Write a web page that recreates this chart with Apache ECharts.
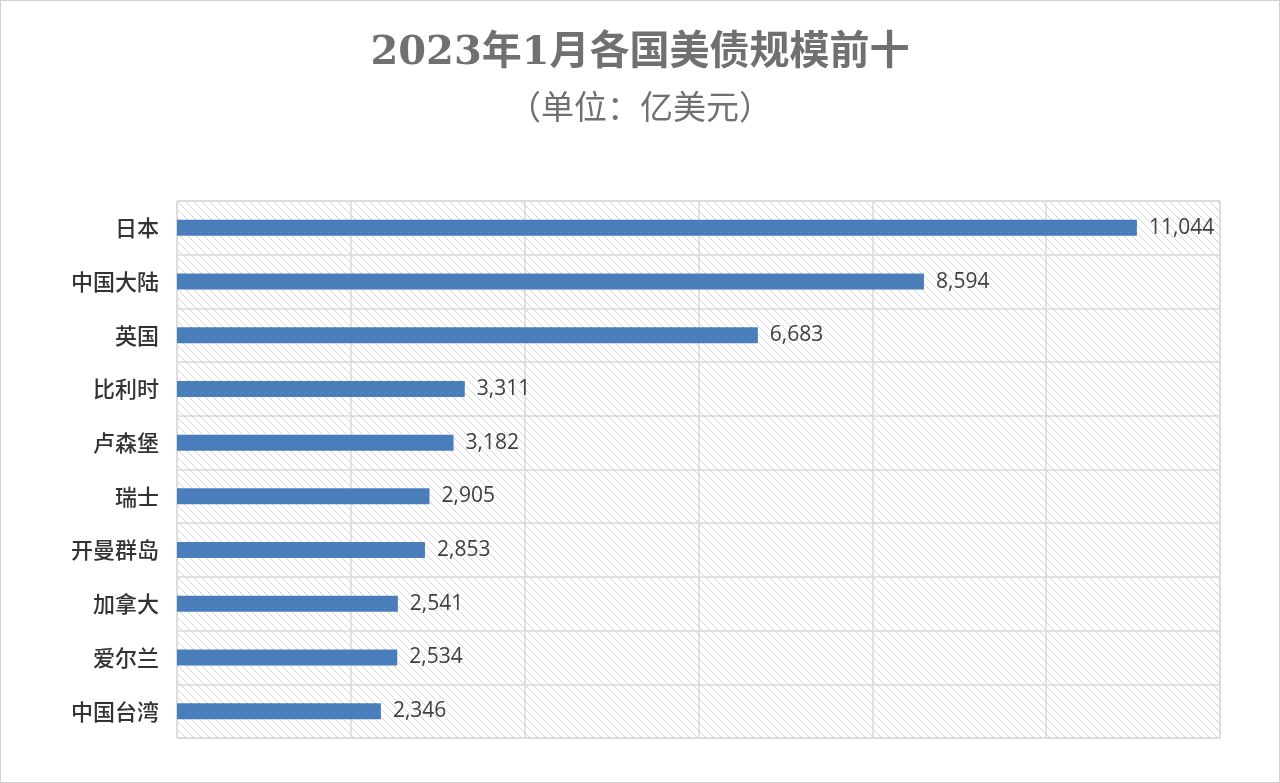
<!DOCTYPE html>
<html>
<head>
<meta charset="utf-8">
<script src="https://cdn.jsdelivr.net/npm/echarts@6/dist/echarts.min.js"></script>
<style>
html,body{margin:0;padding:0;background:#fff;}
#main{width:1278px;height:781px;border:1px solid #d0d0d0;}
</style>
</head>
<body>
<div id="main"></div>
<script>
var countries = ['日本','中国大陆','英国','比利时','卢森堡','瑞士','开曼群岛','加拿大','爱尔兰','中国台湾'];
var holdings = [11044, 8594, 6683, 3311, 3182, 2905, 2853, 2541, 2534, 2346];

// 斜线底纹
var pat = document.createElement('canvas');
pat.width = 8; pat.height = 8;
var ctx = pat.getContext('2d');
ctx.fillStyle = '#ffffff';
ctx.fillRect(0, 0, 8, 8);
ctx.strokeStyle = '#d4d4d4';
ctx.lineWidth = 1;
ctx.beginPath();
ctx.moveTo(0, 0); ctx.lineTo(8, 8);
ctx.moveTo(-4, 4); ctx.lineTo(4, 12);
ctx.moveTo(4, -4); ctx.lineTo(12, 4);
ctx.stroke();

var chart = echarts.init(document.getElementById('main'));
chart.setOption({
    title: [{
        text: '2023年1月各国美债规模前十',
        left: 'center', top: 28,
        textStyle: {fontFamily: 'DejaVu Serif, Noto Sans CJK SC', fontSize: 40, fontWeight: 'bold', color: '#707070'}
    }, {
        text: '（单位：亿美元）',
        left: 'center', top: 84,
        textStyle: {fontFamily: 'Noto Sans CJK SC', fontSize: 33, fontWeight: 'normal', color: '#707070'}
    }],
    grid: {
        left: 176, right: 59, top: 200, bottom: 44,
        show: true,
        backgroundColor: {image: pat, repeat: 'repeat'},
        borderColor: '#d9d9d9', borderWidth: 1
    },
    xAxis: {
        type: 'value', min: 0, max: 12000, interval: 2000,
        axisLabel: {show: false}, axisLine: {show: false}, axisTick: {show: false},
        splitLine: {lineStyle: {color: '#d9d9d9', width: 1.5}}
    },
    yAxis: {
        type: 'category', data: countries, inverse: true,
        axisLine: {show: false}, axisTick: {show: false},
        axisLabel: {fontFamily: 'Noto Sans CJK SC', fontSize: 22, fontWeight: 500, color: '#333333', margin: 18},
        splitLine: {show: true, interval: 0, lineStyle: {color: '#d9d9d9', width: 1.5}}
    },
    series: [{
        type: 'bar', data: holdings, barWidth: 16,
        itemStyle: {color: '#4a7ebb'},
        label: {
            show: true, position: 'right', distance: 12,
            fontFamily: 'Open Sans', fontSize: 21, color: '#404040',
            formatter: function (p) { return p.value.toLocaleString('en-US'); }
        }
    }]
});
</script>
</body>
</html>
